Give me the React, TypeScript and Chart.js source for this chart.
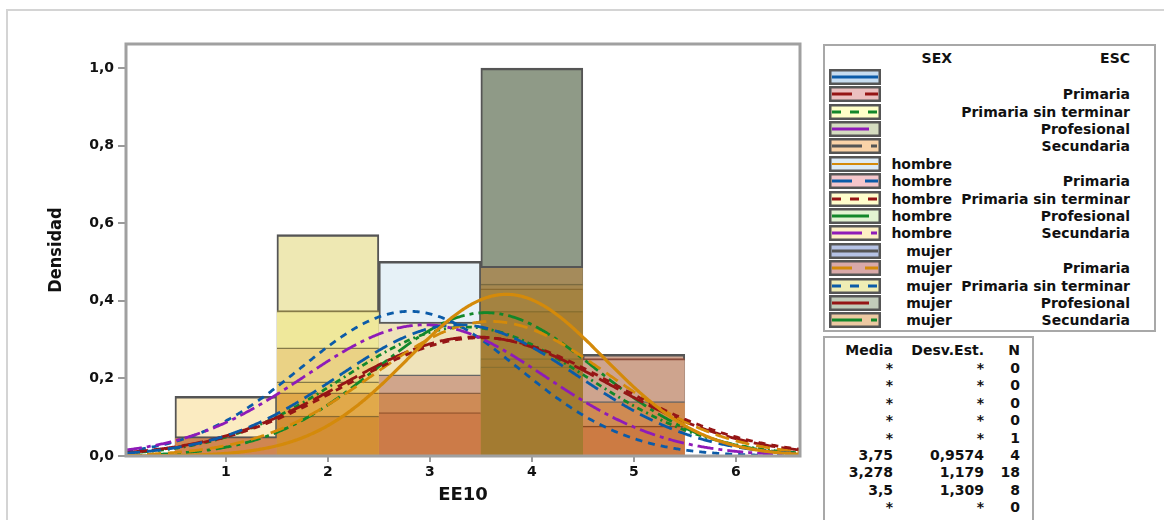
import React, { useEffect, useRef } from 'react';
import { Chart, registerables } from 'chart.js';
Chart.register(...registerables);

// ---------- axis ticks ----------
const xTickValues = [1, 2, 3, 4, 5, 6];
const xTickLabels = ['1', '2', '3', '4', '5', '6'];
const yTickValues = [0, 0.2, 0.4, 0.6, 0.8, 1.0];
const yTickLabels = ['0,0', '0,2', '0,4', '0,6', '0,8', '1,0'];

// ---------- histogram (overlapping layers, tallest behind) ----------
const binCenters = [1, 2, 3, 4, 5, 6];
const layer1 = [0.154, 0.571, 0.502, 1.0, 0.262, null];
const layer2 = [0.05, 0.375, 0.345, 0.489, 0.251, null];
const layer3 = [null, 0.279, 0.209, 0.443, 0.14, null];
const layer4 = [null, 0.191, 0.163, 0.431, 0.077, null];
const layer5 = [null, 0.163, 0.112, 0.373, null, null];
const layer6 = [null, 0.103, null, 0.251, null, null];
const layer7 = [null, null, null, 0.23, null, null];

const layerFills = [
  ['#FBEBC1', '#EEE8B3', '#E6F1F7', '#8F9A87', '#D0A793', '#fff'],
  ['#D08652', '#EFE89B', '#EFE3BA', '#A58B5B', '#CEA48E', '#fff'],
  ['#fff', '#EAD285', '#D0A58B', '#A5874F', '#CF8B53', '#fff'],
  ['#fff', '#EACA6D', '#CE8B56', '#A48341', '#CC7B43', '#fff'],
  ['#fff', '#E1A94A', '#CC7B48', '#A47E36', '#fff', '#fff'],
  ['#fff', '#D38F36', '#fff', '#A37C33', '#fff', '#fff'],
  ['#fff', '#fff', '#fff', '#A37B31', '#fff', '#fff'],
];
const layerLines = [
  ['#555', '#555', '#555', '#555', '#555', '#555'],
  ['#555', '#857A48', '#5A5A5A', '#555', '#8A4A3A', '#555'],
  ['#555', '#857A48', '#666', '#7A6A40', '#666', '#555'],
  ['#555', '#857A48', '#8A6040', '#8A6A30', '#8A4A20', '#555'],
  ['#555', '#8A7038', '#9A5A30', '#8A7030', '#555', '#555'],
  ['#555', '#8A6A30', '#555', '#8A7030', '#555', '#555'],
  ['#555', '#555', '#555', '#8A7030', '#555', '#555'],
];

const curveNames = [
  'hombre', 'hombre Primaria', 'hombre Primaria sin terminar', 'hombre Secundaria',
  'mujer Primaria', 'mujer Primaria sin terminar', 'mujer Profesional', 'mujer Secundaria', 'hombre Profesional',
];
const curveMeans = [3.75, 3.278, 3.5, 2.95, 3.6, 2.8, 3.45, 3.55, 3.35];
const curveSds = [0.9574, 1.179, 1.309, 1.18, 1.15, 1.07, 1.3, 1.08, 1.2];
const curveColors = ['#D48A0A', '#0B5BA8', '#951515', '#8E1BB8', '#D48A0A', '#0B5BA8', '#951515', '#12872A', '#12872A'];
const curveDashes = [[], [14, 7], [7, 6], [16, 5, 4, 5], [14, 7], [7, 6], [22, 6], [16, 5, 4, 5], [6, 4, 2, 4]];
const curveWidths = [3.2, 2.8, 2.8, 2.8, 2.8, 2.8, 2.8, 2.8, 2.8];

// ---------- legend ----------
const legendSex = ['', '', '', '', '', 'hombre', 'hombre', 'hombre', 'hombre', 'hombre', 'mujer', 'mujer', 'mujer', 'mujer', 'mujer'];
const legendEsc = ['', 'Primaria', 'Primaria sin terminar', 'Profesional', 'Secundaria', '', 'Primaria', 'Primaria sin terminar', 'Profesional', 'Secundaria', '', 'Primaria', 'Primaria sin terminar', 'Profesional', 'Secundaria'];
const legendFills = ['#C6DCF0', '#EBC0C0', '#FFFFC8', '#D4DCC0', '#FAD3A8', '#DDEBF6', '#F5C6CB', '#FFFDCC', '#E2F3D2', '#FDEFC4', '#B6C3E6', '#D9A9A9', '#EFEDB5', '#C2CCBA', '#EDC9A2'];
const legendLineColors = ['#0B5BA8', '#951515', '#12872A', '#8E1BB8', '#555', '#D48A0A', '#0B5BA8', '#951515', '#12872A', '#8E1BB8', '#555', '#D48A0A', '#0B5BA8', '#951515', '#12872A'];
const legendDashes = ['', '20 13', '9 9', '37 11', '30 9 6 9', '', '20 13', '9 9', '37 11', '30 9 6 9', '', '20 13', '9 9', '37 11', '30 9 6 9'];

// ---------- stats table ----------
const statMedia = ['*', '*', '*', '*', '*', '3,75', '3,278', '3,5', '*'];
const statSd = ['*', '*', '*', '*', '*', '0,9574', '1,179', '1,309', '*'];
const statN = ['0', '0', '0', '0', '1', '4', '18', '8', '0'];

const X_MIN = 0.02;
const X_MAX = 6.63;
const Y_MIN = 0;
const Y_MAX = 1.062;

const FONT = '"DejaVu Sans", sans-serif';

function normalPdf(x: number, m: number, s: number) {
  return Math.exp(-0.5 * ((x - m) / s) ** 2) / (s * Math.sqrt(2 * Math.PI));
}

const framePlugin = {
  id: 'frame',
  afterDatasetsDraw(chart: any) {
    const { ctx, chartArea: a } = chart;
    ctx.save();
    ctx.strokeStyle = '#A0A0A0';
    ctx.lineWidth = 3;
    ctx.strokeRect(a.left, a.top, a.right - a.left, a.bottom - a.top);
    ctx.restore();
  },
};

export default function App() {
  const ref = useRef<HTMLCanvasElement>(null);

  useEffect(() => {
    const datasets: any[] = [];
    const xs: number[] = [];
    for (let x = X_MIN; x <= X_MAX + 1e-9; x += 0.01) xs.push(x);

    curveNames.forEach((name, i) => {
      datasets.push({
        type: 'line',
        label: name,
        data: xs.map((x) => ({ x, y: normalPdf(x, curveMeans[i], curveSds[i]) })),
        borderColor: curveColors[i],
        borderWidth: curveWidths[i],
        borderDash: curveDashes[i],
        pointRadius: 0,
        fill: false,
        tension: 0,
        order: i,
      });
    });

    const layers = [layer1, layer2, layer3, layer4, layer5, layer6, layer7];
    layers.forEach((layer, k) => {
      const idx = binCenters.map((_, j) => j).filter((j) => layer[j] !== null);
      datasets.push({
        type: 'bar',
        label: 'layer' + (k + 1),
        data: idx.map((j) => ({ x: binCenters[j], y: layer[j] })),
        backgroundColor: idx.map((j) => layerFills[k][j]),
        borderColor: idx.map((j) => layerLines[k][j]),
        borderWidth: k === 0 ? { top: 2.5, left: 2, right: 2, bottom: 0 } : (k === 1 ? { top: 2, left: 0, right: 0, bottom: 0 } : { top: 1.5, left: 0, right: 0, bottom: 0 }),
        grouped: false,
        barPercentage: 1,
        categoryPercentage: 1,
        order: 100 - k,
      });
    });

    const chart = new Chart(ref.current as HTMLCanvasElement, {
      type: 'bar',
      data: { datasets },
      options: {
        animation: false,
        responsive: false,
        maintainAspectRatio: false,
        layout: { padding: { top: 44, right: 10, left: 0, bottom: 0 } },
        plugins: { legend: { display: false }, tooltip: { enabled: false } },
        scales: {
          x: {
            type: 'linear',
            min: X_MIN,
            max: X_MAX,
            offset: false,
            afterBuildTicks: (s: any) => { s.ticks = xTickValues.map((v) => ({ value: v })); },
            afterFit: (s: any) => { s.height = 64; },
            ticks: {
              callback: (_v: any, i: number) => xTickLabels[i],
              color: '#111',
              font: { family: FONT, size: 14, weight: 'bold' },
              padding: 2,
              maxRotation: 0,
            },
            grid: { offset: false, drawOnChartArea: false, drawTicks: true, tickLength: 6, color: '#9A9A9A', lineWidth: 2 },
            border: { display: false },
            title: {
              display: true,
              text: 'EE10',
              color: '#111',
              font: { family: FONT, size: 18, weight: 'bold' },
              padding: { top: 4, bottom: 14 },
            },
          },
          y: {
            type: 'linear',
            min: Y_MIN,
            max: Y_MAX,
            afterBuildTicks: (s: any) => { s.ticks = yTickValues.map((v) => ({ value: v })); },
            afterFit: (s: any) => { s.width = 126; },
            ticks: {
              callback: (_v: any, i: number) => yTickLabels[i],
              color: '#111',
              font: { family: FONT, size: 14, weight: 'bold' },
              padding: 4,
            },
            grid: { drawOnChartArea: false, drawTicks: true, tickLength: 8, color: '#9A9A9A', lineWidth: 2 },
            border: { display: false },
            title: {
              display: true,
              text: 'Densidad',
              color: '#111',
              font: { family: '"DejaVu Sans Condensed", "DejaVu Sans", sans-serif', size: 18, weight: 'bold' },
              padding: { top: 46, bottom: 0 },
            },
          },
        },
      } as any,
      plugins: [framePlugin],
    } as any);
    return () => chart.destroy();
  }, []);

  const rowY = (i: number) => 76.7 + i * 17.4;
  const statY = (i: number) => 368 + i * 17.4;
  const textStyle: React.CSSProperties = {
    position: 'absolute',
    fontFamily: FONT,
    fontWeight: 'bold',
    fontSize: 14,
    lineHeight: '18px',
    height: 18,
    color: '#111',
    whiteSpace: 'nowrap',
    textAlign: 'right',
  };

  return (
    <div style={{ position: 'fixed', left: 0, top: 0, width: 1164, height: 520, background: '#fff', overflow: 'hidden' }}>
      <div style={{ position: 'absolute', left: 6, top: 9, width: 1170, height: 530, border: '2px solid #D4D4D4', boxSizing: 'border-box' }} />
      <canvas ref={ref} width={810} height={520} style={{ position: 'absolute', left: 0, top: 0, width: 810, height: 520 }} />

      {/* legend box */}
      <div style={{ position: 'absolute', left: 823, top: 44, width: 333, height: 288, border: '2px solid #A8A8A8', boxSizing: 'border-box' }} />
      <div style={{ ...textStyle, left: 880, width: 72, top: 58 - 9 }}>SEX</div>
      <div style={{ ...textStyle, left: 1030, width: 100, top: 58 - 9 }}>ESC</div>
      {legendSex.map((sex, i) => (
        <React.Fragment key={i}>
          <svg style={{ position: 'absolute', left: 829, top: rowY(i) - 8 }} width={52} height={16}>
            <rect x={1.25} y={1.25} width={49.5} height={13.5} fill={legendFills[i]} stroke="#555" strokeWidth={2.5} />
            <line x1={3} y1={8} x2={49} y2={8} stroke={legendLineColors[i]} strokeWidth={i === 5 ? 2 : 3} strokeDasharray={legendDashes[i] || undefined} />
          </svg>
          <div style={{ ...textStyle, left: 880, width: 72, top: rowY(i) - 9 }}>{sex}</div>
          <div style={{ ...textStyle, left: 955, width: 175, top: rowY(i) - 9 }}>{legendEsc[i]}</div>
        </React.Fragment>
      ))}

      {/* stats table */}
      <div style={{ position: 'absolute', left: 823, top: 336, width: 211, height: 220, border: '2px solid #A8A8A8', boxSizing: 'border-box' }} />
      <div style={{ ...textStyle, left: 830, width: 63, top: 350 - 9 }}>Media</div>
      <div style={{ ...textStyle, left: 895, width: 89, top: 350 - 9 }}>Desv.Est.</div>
      <div style={{ ...textStyle, left: 990, width: 30, top: 350 - 9 }}>N</div>
      {statMedia.map((m, i) => (
        <React.Fragment key={i}>
          <div style={{ ...textStyle, left: 830, width: 63, top: statY(i) - 9 }}>{m}</div>
          <div style={{ ...textStyle, left: 895, width: 89, top: statY(i) - 9 }}>{statSd[i]}</div>
          <div style={{ ...textStyle, left: 990, width: 30, top: statY(i) - 9 }}>{statN[i]}</div>
        </React.Fragment>
      ))}
    </div>
  );
}
